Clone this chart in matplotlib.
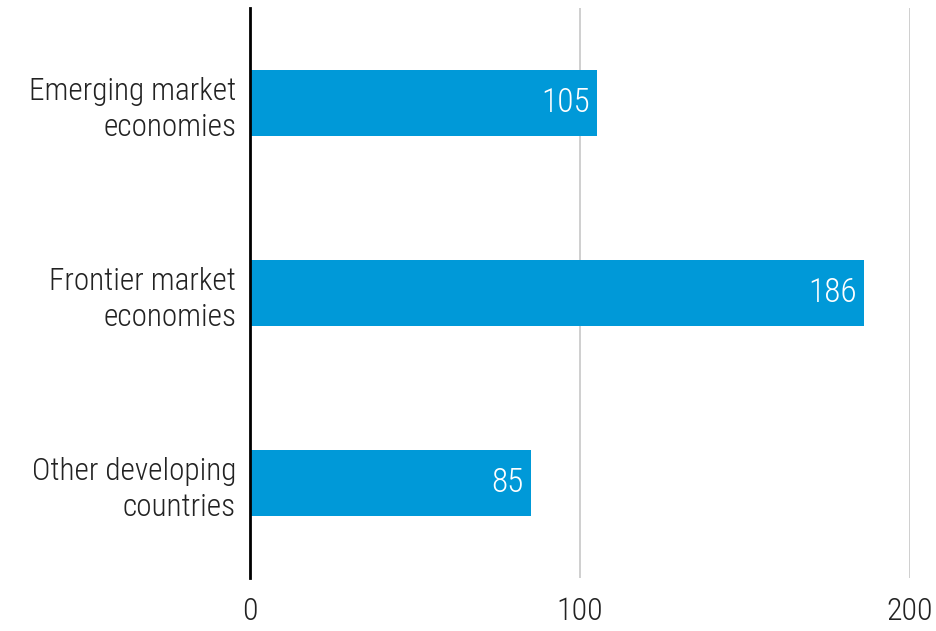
import matplotlib
matplotlib.use("Agg")
import matplotlib.pyplot as plt

categories = ["Emerging market\neconomies", "Frontier market\neconomies", "Other developing\ncountries"]
values = [105, 186, 85]
xticks = [0, 100, 200]

plt.rcParams['font.family'] = ['Roboto Condensed', 'Roboto', 'DejaVu Sans']

fig = plt.figure(figsize=(9.37, 6.31), dpi=100)
ax = fig.add_axes([250 / 937, 1 - 578 / 631, 660 / 937, 570 / 631])

ypos = list(range(len(categories)))
ax.barh(ypos, values, height=0.35, color='#0099d8', zorder=3)
for y, v in zip(ypos, values):
    ax.text(v - 2, y, str(v), ha='right', va='center', color='white',
            fontsize=24, fontweight='light', fontstretch='condensed', zorder=4)

ax.set_xlim(0, 200)
ax.set_ylim(2.5, -0.5)
ax.set_yticks(ypos)
ax.set_yticklabels(categories, fontsize=22.5, color='#222222', fontweight='light',
                   fontstretch='condensed', linespacing=1.3)
ax.set_xticks(xticks)
ax.set_xticklabels([str(t) for t in xticks], fontsize=23, color='#222222',
                   fontweight='light', fontstretch='condensed')
ax.tick_params(axis='y', length=0, pad=10)
ax.tick_params(axis='x', length=0, pad=14)
ax.grid(axis='x', color='#cccccc', linewidth=1.3, zorder=0)
for s in ['top', 'right', 'bottom']:
    ax.spines[s].set_visible(False)
ax.spines['left'].set_linewidth(2)
ax.spines['left'].set_color('black')
ax.spines['left'].set_zorder(5)

fig.savefig("out.png", dpi=100)
